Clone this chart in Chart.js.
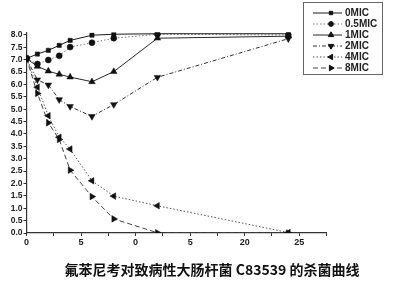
<!DOCTYPE html>
<html>
<head>
<meta charset="utf-8">
<script src="https://cdn.jsdelivr.net/npm/chart.js@4"></script>
<style>
  html, body { margin: 0; padding: 0; background: #fff; }
  #wrap { width: 400px; height: 288px; }
</style>
</head>
<body>
<div id="wrap"><canvas id="killCurve"></canvas></div>
<script>
// sampling times (h)
const hours = [0, 1, 2, 3, 4, 6, 8, 12, 24];

// log10 CFU/mL
const mic0   = [7.05, 7.23, 7.38, 7.58, 7.78, 7.99, 8.03, 8.05, 8.05];
const mic05  = [7.05, 6.83, 6.99, 7.16, 7.51, 7.69, 7.87, 8.03, 8.0];
const mic1   = [7.05, 6.73, 6.54, 6.41, 6.30, 6.11, 6.52, 7.87, 7.95];
const mic2   = [7.05, 6.19, 5.98, 5.39, 5.11, 4.71, 5.19, 6.29, 7.85];
const mic4   = [7.05, 5.89, 4.74, 3.87, 3.39, 2.11, 1.49, 1.10, 0.02];
const mic8   = [7.05, 5.64, 4.45, 3.78, 2.54, 1.47, 0.57, 0.01, 0.0];

const seriesNames = ['0MIC', '0.5MIC', '1MIC', '2MIC', '4MIC', '8MIC'];
const xTickLabels = ['0', '5', '0', '5', '20', '25'];  // as printed in the scan
const chartTitle = '氟苯尼考对致病性大肠杆菌 C83539 的杀菌曲线';

const looks = [
  { color: '#1a1a1a', dash: [],        style: 'rect',     rot: 0,   r: 3 },
  { color: '#777',    dash: [1.5, 2],  style: 'circle',   rot: 0,   r: 3 },
  { color: '#2a2a2a', dash: [],        style: 'triangle', rot: 0,   r: 3.8 },
  { color: '#333',    dash: [4, 2, 1, 2], style: 'triangle', rot: 180, r: 3.8 },
  { color: '#555',    dash: [1.5, 2],  style: 'triangle', rot: -90, r: 3.8 },
  { color: '#444',    dash: [5, 3],    style: 'triangle', rot: 90,  r: 3.8 }
];

function toPoints(vals) {
  return vals.map((v, i) => ({ x: hours[i], y: v }));
}

const allSeries = [mic0, mic05, mic1, mic2, mic4, mic8];
const datasets = allSeries.map((vals, i) => ({
  label: seriesNames[i],
  data: toPoints(vals),
  borderColor: looks[i].color,
  backgroundColor: '#111',
  borderWidth: 1,
  borderDash: looks[i].dash,
  pointStyle: looks[i].style,
  rotation: looks[i].rot,
  pointRadius: looks[i].r,
  pointBorderColor: '#111',
  pointBackgroundColor: '#111',
  pointBorderWidth: 0.5,
  tension: 0
}));

// boxed legend in the top-right corner plus the caption under the plot
const figureExtras = {
  id: 'figureExtras',
  afterDraw(chart) {
    const c = chart.ctx;
    c.save();
    c.strokeStyle = '#666';
    c.lineWidth = 1;
    c.strokeRect(303.5, 2.5, 79, 72);
    c.font = 'bold 10px "Liberation Sans", Arial, sans-serif';
    c.textBaseline = 'middle';
    seriesNames.forEach((name, i) => {
      const y = 13 + i * 11;
      const lk = looks[i];
      c.strokeStyle = lk.color;
      c.setLineDash(lk.dash);
      c.beginPath();
      c.moveTo(313, y);
      c.lineTo(342, y);
      c.stroke();
      c.setLineDash([]);
      c.fillStyle = '#111';
      c.strokeStyle = '#111';
      Chart.helpers.drawPoint(c, { pointStyle: lk.style, rotation: lk.rot, radius: lk.r - 0.6, borderWidth: 0.5 }, 331, y);
      c.fillStyle = '#222';
      c.fillText(name, 345, y + 0.5);
    });

    c.font = 'bold 14px "Noto Sans CJK SC", sans-serif';
    c.fillStyle = '#111';
    c.textAlign = 'center';
    c.fillText(chartTitle, 212, 270);
    c.restore();
  }
};

new Chart(document.getElementById('killCurve'), {
  type: 'line',
  data: { datasets },
  plugins: [figureExtras],
  options: {
    responsive: true,
    maintainAspectRatio: false,
    animation: false,
    layout: { padding: { top: 32.5, right: 73.5, left: 0, bottom: 0 } },
    plugins: {
      legend: { display: false },
      tooltip: { enabled: false },
      title: { display: false }
    },
    scales: {
      x: {
        type: 'linear',
        min: 0,
        max: 27.5,
        afterFit(s) { s.height = 55; },
        border: { color: '#333', width: 1.2 },
        grid: { drawOnChartArea: false, tickLength: 3, color: '#333' },
        ticks: {
          stepSize: 2.5,
          autoSkip: false,
          maxRotation: 0,
          padding: 1,
          color: '#222',
          font: { family: '"Liberation Sans", Arial, sans-serif', size: 9, weight: 'bold' },
          callback: v => (v % 5 === 0 ? xTickLabels[v / 5] : '')
        }
      },
      y: {
        min: 0,
        max: 8.1,
        afterFit(s) { s.width = 26.5; },
        afterBuildTicks(s) {
          s.ticks = [];
          for (let k = 0; k <= 16; k++) s.ticks.push({ value: k * 0.5 });
        },
        border: { color: '#333', width: 1.2 },
        grid: { drawOnChartArea: false, tickLength: 3, color: '#333' },
        ticks: {
          autoSkip: false,
          padding: 1,
          color: '#222',
          font: { family: '"Liberation Sans", Arial, sans-serif', size: 8.5, weight: 'bold' },
          callback: v => v.toFixed(1)
        }
      }
    }
  }
});
</script>
</body>
</html>
